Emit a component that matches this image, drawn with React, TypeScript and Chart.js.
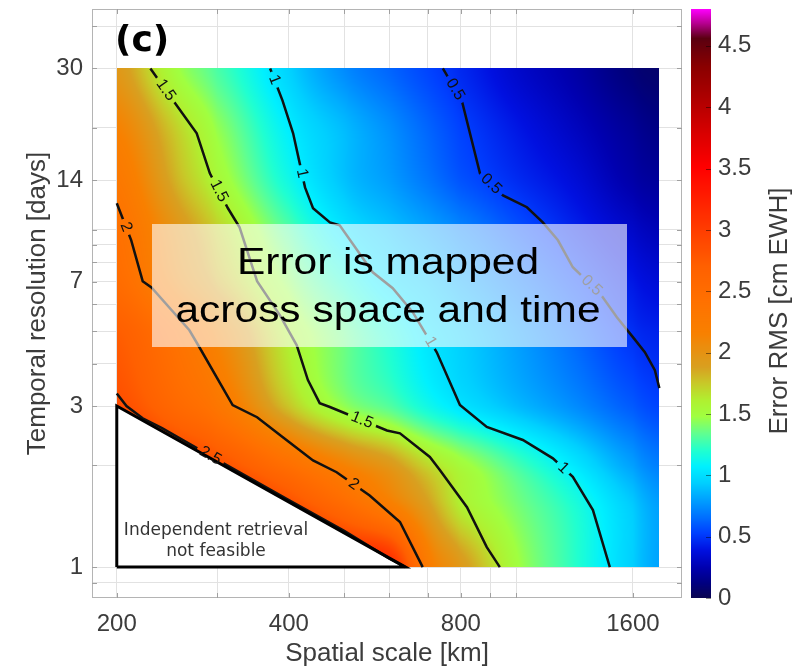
import React, { useEffect, useRef } from 'react';
import { Chart, registerables } from 'chart.js';

Chart.register(...registerables);

// ---------- axis ticks ----------
const X_GRID = [200, 300, 400, 500, 600, 700, 800, 900, 1000, 1600];
const X_LABELS = [200, 400, 800, 1600];
const Y_GRID = [0.9, 1, 2, 3, 4, 5, 6, 7, 8, 9, 10, 14, 20, 30, 40];
const Y_LABELS = [1, 3, 7, 14, 30];
const CB_TICKS = [0, 0.5, 1, 1.5, 2, 2.5, 3, 3.5, 4, 4.5];

// ---------- error field (cm EWH) on a coarse grid ----------
const GRID_KM = [200, 250, 300, 400, 500, 600, 700, 800, 1000, 1250, 1600, 1780];
const GRID_DAYS = [1, 1.5, 2, 3, 5, 7, 10, 14, 20, 30];
const ERR_1D = [3.8, 3.7, 3.6, 3.45, 3.3, 3.2, 2.26, 1.94, 1.5, 1.23, 0.94, 0.81];
const ERR_1_5D = [3.57, 3.39, 3.24, 2.9, 2.56, 2.25, 1.92, 1.62, 1.4, 1.2, 0.93, 0.8];
const ERR_2D = [3.3, 3.06, 2.85, 2.45, 2.15, 1.95, 1.7, 1.52, 1.28, 1.05, 0.8, 0.7];
const ERR_3D = [2.88, 2.58, 2.33, 1.76, 1.45, 1.31, 1.14, 1.02, 0.88, 0.75, 0.6, 0.54];
const ERR_5D = [2.72, 2.4, 2.1, 1.59, 1.35, 1.17, 1.02, 0.93, 0.79, 0.64, 0.48, 0.44];
const ERR_7D = [2.5, 2.11, 1.83, 1.44, 1.19, 1.01, 0.92, 0.83, 0.69, 0.55, 0.41, 0.36];
const ERR_10D = [2.42, 2.01, 1.72, 1.3, 1.02, 0.9, 0.81, 0.72, 0.58, 0.45, 0.32, 0.27];
const ERR_14D = [2.3, 1.85, 1.55, 1.14, 0.9, 0.79, 0.68, 0.58, 0.47, 0.37, 0.23, 0.19];
const ERR_20D = [2.15, 1.75, 1.45, 1.06, 0.88, 0.75, 0.63, 0.53, 0.41, 0.3, 0.18, 0.13];
const ERR_30D = [1.95, 1.52, 1.29, 0.95, 0.74, 0.63, 0.54, 0.46, 0.33, 0.23, 0.1, 0.07];
const ERR_ROWS = [ERR_1D, ERR_1_5D, ERR_2D, ERR_3D, ERR_5D, ERR_7D, ERR_10D, ERR_14D, ERR_20D, ERR_30D];

// ---------- contour lines ----------
const C05_KM = [744, 803, 864, 948, 1044, 1113, 1183, 1256, 1401, 1500, 1600, 1679, 1748, 1780];
const C05_DAYS = [30, 24.1, 14.67, 12.62, 11.64, 10.5, 9.29, 7.73, 6.47, 5.5, 4.8, 4.33, 3.83, 3.39];
const C05_LBL_KM = [775, 899, 1345];
const C05_LBL_DAYS = [25.8, 13.5, 6.74];

const C1_KM = [371, 390, 407, 418, 427, 441, 472, 491, 561, 608, 659, 726, 797, 888, 1027, 1159, 1256, 1362, 1458];
const C1_DAYS = [30, 24.1, 19.27, 15.7, 13.33, 11.56, 10.5, 10.29, 7.47, 6.7, 5.69, 4.33, 3.02, 2.6, 2.38, 2.1, 1.85, 1.475, 1];
const C1_LBL_KM = [374, 422, 706, 1207];
const C1_LBL_DAYS = [27.6, 14.67, 4.64, 1.96];

const C15_KM = [229, 251, 276, 291, 313, 328, 352, 386, 413, 432, 453, 472, 594, 626, 706, 735, 820, 888, 936];
const C15_DAYS = [30, 24.1, 19.27, 14.67, 11.56, 10.15, 7.03, 5.57, 4.54, 3.58, 3.06, 2.98, 2.54, 2.49, 2.12, 1.94, 1.505, 1.146, 1];
const C15_LBL_KM = [243, 299, 537];
const C15_LBL_DAYS = [25.8, 12.9, 2.72];

const C2_KM = [200, 212, 222, 230, 268, 279, 319, 352, 390, 441, 485, 554, 626, 686];
const C2_DAYS = [11.96, 9.29, 7.03, 6.74, 5.03, 4.48, 3.02, 2.78, 2.43, 2.07, 1.91, 1.63, 1.36, 1];
const C2_LBL_KM = [207, 518];
const C2_LBL_DAYS = [10.15, 1.75];

const C25_KM = [200, 208, 222, 240, 300, 400, 500, 600, 640];
const C25_DAYS = [3.27, 3.0, 2.76, 2.58, 2.08, 1.58, 1.28, 1.06, 1.0];
const C25_LBL_KM = [294];
const C25_LBL_DAYS = [2.19];

// ---------- infeasible region ----------
const TRI_KM = [200, 200, 640, 200];
const TRI_DAYS = [1, 3, 1, 1];

// ---------- colour map (value, r, g, b) ----------
const CMAP_V = [0, 0.12, 0.25, 0.39, 0.53, 0.66, 0.8, 0.94, 1.07, 1.2, 1.34, 1.48, 1.61, 1.75, 1.88, 2.16, 2.43, 2.7, 2.97, 3.24, 3.51, 3.79, 4.06, 4.33, 4.56, 4.68, 4.8];
const CMAP_RGB = [
  [10, 5, 80], [0, 0, 128], [0, 0, 176], [0, 16, 224], [0, 64, 255], [0, 112, 255], [0, 160, 255],
  [0, 208, 255], [0, 240, 255], [32, 255, 208], [96, 255, 144], [160, 255, 64], [176, 240, 48],
  [200, 200, 40], [216, 160, 32], [248, 128, 0], [255, 112, 0], [255, 96, 0], [255, 64, 0],
  [255, 32, 0], [255, 0, 0], [216, 0, 0], [176, 0, 0], [138, 0, 0], [90, 0, 16], [180, 0, 140], [255, 0, 255],
];
const CB_MIN = 0;
const CB_MAX = 4.8;

const FONT = '"Liberation Sans", Arial, Helvetica, sans-serif';
const TXT = '#3c3c3c';

const CONTOURS = [
  { level: '0.5', km: C05_KM, days: C05_DAYS, lblKm: C05_LBL_KM, lblDays: C05_LBL_DAYS },
  { level: '1', km: C1_KM, days: C1_DAYS, lblKm: C1_LBL_KM, lblDays: C1_LBL_DAYS },
  { level: '1.5', km: C15_KM, days: C15_DAYS, lblKm: C15_LBL_KM, lblDays: C15_LBL_DAYS },
  { level: '2', km: C2_KM, days: C2_DAYS, lblKm: C2_LBL_KM, lblDays: C2_LBL_DAYS },
  { level: '2.5', km: C25_KM, days: C25_DAYS, lblKm: C25_LBL_KM, lblDays: C25_LBL_DAYS },
];

const LGX = GRID_KM.map(Math.log);
const LGY = GRID_DAYS.map(Math.log);

function fracIndex(arr: number[], v: number) {
  let i = 0;
  while (i < arr.length - 2 && v > arr[i + 1]) i++;
  const t = Math.min(1, Math.max(0, (v - arr[i]) / (arr[i + 1] - arr[i])));
  return i + t;
}

// Catmull-Rom smoothing between grid nodes (display only)
function cr(p0: number, p1: number, p2: number, p3: number, t: number) {
  const t2 = t * t, t3 = t2 * t;
  return 0.5 * (2 * p1 + (-p0 + p2) * t + (2 * p0 - 5 * p1 + 4 * p2 - p3) * t2 + (-p0 + 3 * p1 - 3 * p2 + p3) * t3);
}
function rowAt(row: number[], f: number) {
  const n = row.length;
  const i = Math.min(n - 2, Math.floor(f));
  const t = f - i;
  const g = (k: number) => row[Math.max(0, Math.min(n - 1, k))];
  return cr(g(i - 1), g(i), g(i + 1), g(i + 2), t);
}
function errAt(km: number, days: number) {
  const fx = fracIndex(LGX, Math.log(km));
  const fy = fracIndex(LGY, Math.log(days));
  const n = ERR_ROWS.length;
  const j = Math.min(n - 2, Math.floor(fy));
  const t = fy - j;
  const g = (k: number) => rowAt(ERR_ROWS[Math.max(0, Math.min(n - 1, k))], fx);
  return cr(g(j - 1), g(j), g(j + 1), g(j + 2), t);
}

function colorFor(v: number) {
  if (v <= CMAP_V[0]) return CMAP_RGB[0];
  const n = CMAP_V.length;
  if (v >= CMAP_V[n - 1]) return CMAP_RGB[n - 1];
  let k = 0;
  while (v > CMAP_V[k + 1]) k++;
  const t = (v - CMAP_V[k]) / (CMAP_V[k + 1] - CMAP_V[k]);
  const a = CMAP_RGB[k], b = CMAP_RGB[k + 1];
  return [a[0] + (b[0] - a[0]) * t, a[1] + (b[1] - a[1]) * t, a[2] + (b[2] - a[2]) * t];
}

function labelGeom(chart: any, c: any) {
  const xs = chart.scales.x, ys = chart.scales.y;
  const pts = c.km.map((k: number, i: number) => [xs.getPixelForValue(k), ys.getPixelForValue(c.days[i])]);
  return c.lblKm.map((k: number, i: number) => {
    const lx = xs.getPixelForValue(k), ly = ys.getPixelForValue(c.lblDays[i]);
    let best = Infinity, ang = 0, px = lx, py = ly;
    for (let s = 0; s < pts.length - 1; s++) {
      const [ax, ay] = pts[s], [bx, by] = pts[s + 1];
      const dx = bx - ax, dy = by - ay;
      const L = dx * dx + dy * dy;
      let t = L ? ((lx - ax) * dx + (ly - ay) * dy) / L : 0;
      t = Math.max(0, Math.min(1, t));
      const qx = ax + t * dx, qy = ay + t * dy;
      const dd = (qx - lx) ** 2 + (qy - ly) ** 2;
      if (dd < best) { best = dd; ang = Math.atan2(dy, dx); px = qx; py = qy; }
    }
    if (ang > Math.PI / 2) ang -= Math.PI;
    if (ang < -Math.PI / 2) ang += Math.PI;
    return { x: px, y: py, a: ang };
  });
}

const LABEL_FONT = '16px ' + FONT;

const heatPlugin = {
  id: 'heat',
  beforeDatasetsDraw(chart: any) {
    const { ctx, scales } = chart;
    const xs = scales.x, ys = scales.y;
    const x0 = Math.round(xs.getPixelForValue(GRID_KM[0]));
    const x1 = Math.round(xs.getPixelForValue(GRID_KM[GRID_KM.length - 1]));
    const y0 = Math.round(ys.getPixelForValue(GRID_DAYS[GRID_DAYS.length - 1]));
    const y1 = Math.round(ys.getPixelForValue(GRID_DAYS[0]));
    const w = x1 - x0, h = y1 - y0;
    const off = document.createElement('canvas');
    off.width = w; off.height = h;
    const octx = off.getContext('2d')!;
    const img = octx.createImageData(w, h);
    const kms: number[] = [];
    for (let i = 0; i < w; i++) kms.push(xs.getValueForPixel(x0 + i + 0.5));
    for (let j = 0; j < h; j++) {
      const d = ys.getValueForPixel(y0 + j + 0.5);
      for (let i = 0; i < w; i++) {
        const c = colorFor(errAt(kms[i], d));
        const p = (j * w + i) * 4;
        img.data[p] = c[0]; img.data[p + 1] = c[1]; img.data[p + 2] = c[2]; img.data[p + 3] = 255;
      }
    }
    octx.putImageData(img, 0, 0);
    ctx.drawImage(off, x0, y0);
    // infeasible triangle
    ctx.save();
    ctx.beginPath();
    TRI_KM.forEach((k, i) => {
      const px = xs.getPixelForValue(k), py = ys.getPixelForValue(TRI_DAYS[i]);
      if (i) ctx.lineTo(px, py); else ctx.moveTo(px, py);
    });
    ctx.closePath();
    ctx.fillStyle = '#ffffff';
    ctx.fill();
    ctx.restore();
  },
  beforeDatasetDraw(chart: any, args: any) {
    const ds = chart.data.datasets[args.index];
    if (ds.contourIdx === undefined) return;
    const c = CONTOURS[ds.contourIdx];
    const { ctx } = chart;
    ctx.save();
    ctx.font = LABEL_FONT;
    const r = ctx.measureText(c.level).width / 2 + 4;
    ctx.beginPath();
    ctx.rect(0, 0, chart.width, chart.height);
    labelGeom(chart, c).forEach((g: any) => {
      ctx.moveTo(g.x + r, g.y);
      ctx.arc(g.x, g.y, r, 0, Math.PI * 2);
    });
    ctx.clip('evenodd');
  },
  afterDatasetDraw(chart: any, args: any) {
    const ds = chart.data.datasets[args.index];
    if (ds.contourIdx === undefined) return;
    chart.ctx.restore();
  },
  afterDatasetsDraw(chart: any) {
    const { ctx, chartArea: ca, scales } = chart;
    // contour labels
    ctx.save();
    ctx.font = LABEL_FONT;
    ctx.fillStyle = '#111';
    ctx.textAlign = 'center';
    ctx.textBaseline = 'middle';
    CONTOURS.forEach((c) => {
      labelGeom(chart, c).forEach((g: any) => {
        ctx.save();
        ctx.translate(g.x, g.y);
        ctx.rotate(g.a);
        ctx.fillText(c.level, 0, 0);
        ctx.restore();
      });
    });
    ctx.restore();

    // overlay box
    ctx.save();
    ctx.fillStyle = 'rgba(255,255,255,0.6)';
    ctx.fillRect(152, 224, 475, 123);
    ctx.fillStyle = '#000';
    ctx.font = '36px ' + FONT;
    ctx.textAlign = 'center';
    ctx.textBaseline = 'alphabetic';
    ctx.save(); ctx.translate(388, 274); ctx.scale(1.18, 1); ctx.fillText('Error is mapped', 0, 0); ctx.restore();
    ctx.save(); ctx.translate(388, 322); ctx.scale(1.18, 1); ctx.fillText('across space and time', 0, 0); ctx.restore();
    ctx.restore();

    // triangle text
    ctx.save();
    ctx.fillStyle = '#333';
    ctx.font = '17px "DejaVu Sans", Verdana, sans-serif';
    ctx.textAlign = 'center';
    ctx.textBaseline = 'alphabetic';
    ctx.fillText('Independent retrieval', 216, 535);
    ctx.fillText('not feasible', 216, 556);
    ctx.restore();

    // panel label
    ctx.save();
    ctx.fillStyle = '#000';
    ctx.font = 'bold 36px "DejaVu Sans", Verdana, sans-serif';
    ctx.textAlign = 'left';
    ctx.textBaseline = 'alphabetic';
    ctx.fillText('(c)', 115, 51);
    ctx.restore();

    // frame + inward ticks
    ctx.save();
    ctx.strokeStyle = '#b4b4b4';
    ctx.lineWidth = 1;
    ctx.strokeRect(ca.left + 0.5, ca.top + 0.5, ca.right - ca.left - 1, ca.bottom - ca.top - 1);
    ctx.strokeStyle = '#a0a0a0';
    ctx.beginPath();
    X_GRID.forEach((v) => {
      const px = Math.round(scales.x.getPixelForValue(v)) + 0.5;
      ctx.moveTo(px, ca.top); ctx.lineTo(px, ca.top + 5);
      ctx.moveTo(px, ca.bottom); ctx.lineTo(px, ca.bottom - 5);
    });
    Y_GRID.forEach((v) => {
      const py = Math.round(scales.y.getPixelForValue(v)) + 0.5;
      ctx.moveTo(ca.left, py); ctx.lineTo(ca.left + 5, py);
      ctx.moveTo(ca.right, py); ctx.lineTo(ca.right - 5, py);
    });
    ctx.stroke();
    ctx.restore();

    // colour bar
    const cb = scales.cb;
    const bx = ca.right + 9, bw = 20;
    const top = Math.round(cb.getPixelForValue(CB_MAX));
    const bot = Math.round(cb.getPixelForValue(CB_MIN));
    ctx.save();
    for (let py = top; py < bot; py++) {
      const c = colorFor(cb.getValueForPixel(py + 0.5));
      ctx.fillStyle = `rgb(${c[0]},${c[1]},${c[2]})`;
      ctx.fillRect(bx, py, bw, 1);
    }
    ctx.strokeStyle = 'rgba(0,0,0,0.45)';
    ctx.beginPath();
    CB_TICKS.forEach((v) => {
      const py = Math.round(cb.getPixelForValue(v)) + 0.5;
      ctx.moveTo(bx + bw - 5, py); ctx.lineTo(bx + bw, py);
    });
    ctx.stroke();
    // colour bar title
    ctx.fillStyle = TXT;
    ctx.font = '26px ' + FONT;
    ctx.textAlign = 'center';
    ctx.textBaseline = 'middle';
    ctx.translate(780, 311);
    ctx.rotate(-Math.PI / 2);
    ctx.fillText('Error RMS [cm EWH]', 0, 0);
    ctx.restore();
  },
};

function pairs(xs: number[], ys: number[]) {
  return xs.map((x, i) => ({ x, y: ys[i] }));
}

function zeroPad(s: any) {
  s.paddingTop = 0; s.paddingBottom = 0; s.paddingLeft = 0; s.paddingRight = 0;
}

export default function App() {
  const ref = useRef<HTMLCanvasElement>(null);
  useEffect(() => {
    const datasets: any[] = [
      {
        data: pairs(TRI_KM, TRI_DAYS),
        showLine: true, borderColor: '#000', borderWidth: 3, pointRadius: 0, tension: 0, fill: false,
        borderJoinStyle: 'miter',
      },
      ...CONTOURS.map((c, idx) => ({
        contourIdx: idx,
        data: pairs(c.km, c.days),
        showLine: true, borderColor: '#111', borderWidth: 2.5, pointRadius: 0, tension: 0, fill: false,
      })),
    ];
    const chart = new Chart(ref.current!, {
      type: 'scatter',
      data: { datasets },
      options: {
        responsive: false,
        animation: false,
        devicePixelRatio: 1,
        layout: { padding: { top: 9, left: 0, right: 0, bottom: 0 } },
        plugins: { legend: { display: false }, tooltip: { enabled: false } },
        scales: {
          x: {
            type: 'logarithmic',
            min: 181,
            max: 1950,
            afterBuildTicks: (s: any) => { s.ticks = X_GRID.map((v) => ({ value: v })); },
            afterFit: (s: any) => { s.height = 71; zeroPad(s); },
            grid: { color: '#e2e2e2', drawTicks: false },
            border: { display: false },
            ticks: {
              autoSkip: false, maxRotation: 0, padding: 12, color: TXT,
              font: { size: 24, family: FONT },
              callback: (v: any) => (X_LABELS.includes(Number(v)) ? String(v) : ''),
            },
            title: { display: true, text: 'Spatial scale [km]', color: TXT, font: { size: 26, family: FONT }, padding: { top: 0, bottom: 0 } },
          },
          y: {
            type: 'logarithmic',
            position: 'left',
            min: 0.81,
            max: 45,
            afterBuildTicks: (s: any) => { s.ticks = Y_GRID.map((v) => ({ value: v })); },
            afterFit: (s: any) => { s.width = 92; zeroPad(s); },
            grid: { color: '#e2e2e2', drawTicks: false },
            border: { display: false },
            ticks: {
              autoSkip: false, padding: 9, color: TXT,
              font: { size: 24, family: FONT },
              callback: (v: any) => (Y_LABELS.includes(Number(v)) ? String(v) : ''),
            },
            title: { display: true, text: 'Temporal resolution [days]', color: TXT, font: { size: 26, family: FONT }, padding: { top: 22, bottom: 0 } },
          },
          cb: {
            type: 'linear',
            position: 'right',
            min: CB_MIN,
            max: CB_MAX,
            afterBuildTicks: (s: any) => { s.ticks = CB_TICKS.map((v) => ({ value: v })); },
            afterFit: (s: any) => { s.width = 128; zeroPad(s); },
            grid: { drawOnChartArea: false, drawTicks: true, tickLength: 30, color: 'rgba(0,0,0,0)' },
            border: { display: false },
            ticks: {
              padding: 6, color: TXT, font: { size: 24, family: FONT },
              callback: (v: any) => String(Number(v)),
            },
          },
        },
      } as any,
      plugins: [heatPlugin as any],
    });
    return () => chart.destroy();
  }, []);
  return (
    <div style={{ position: 'absolute', left: 0, top: 0, width: 810, height: 669, background: '#fff' }}>
      <canvas ref={ref} width={810} height={669} style={{ display: 'block', width: 810, height: 669 }} />
    </div>
  );
}
